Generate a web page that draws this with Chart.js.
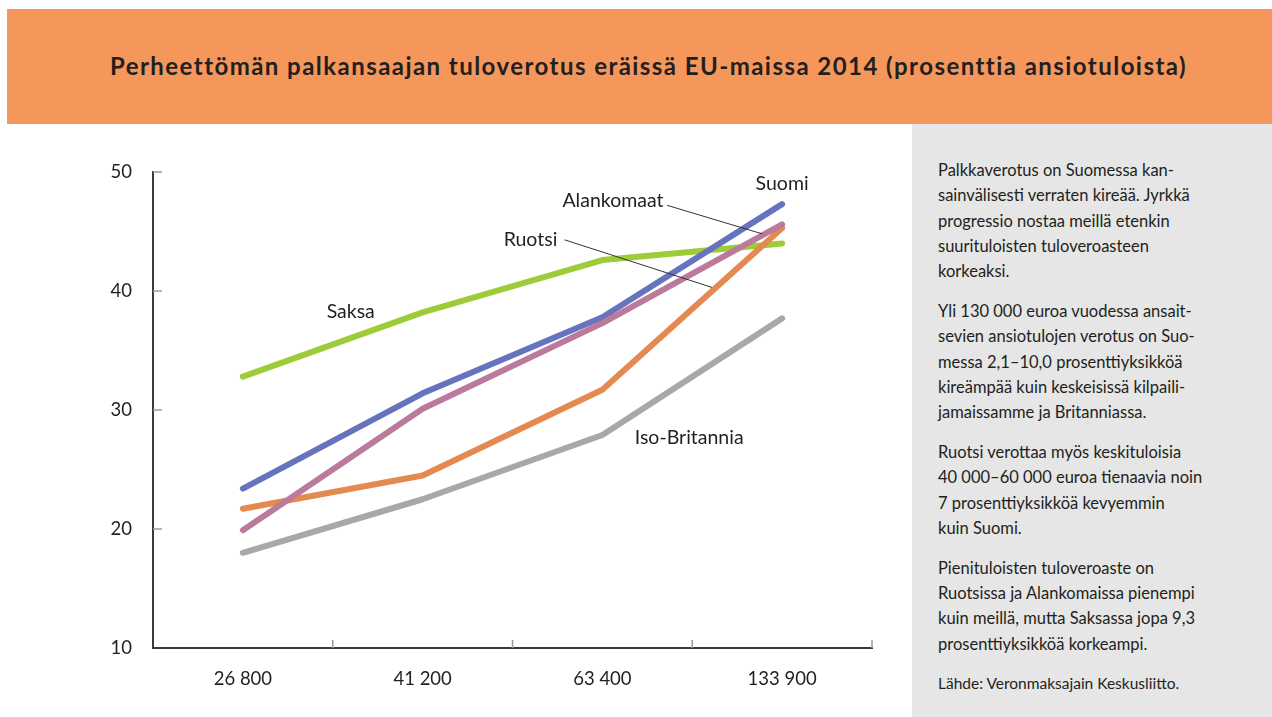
<!DOCTYPE html>
<html>
<head>
<meta charset="utf-8">
<script src="https://cdn.jsdelivr.net/npm/chart.js@4"></script>
<style>
  html, body { margin: 0; padding: 0; background: #fff; }
  body { width: 1272px; height: 717px; position: relative; overflow: hidden; font-family: Lato, "Open Sans", sans-serif; color: #231f20; }
  #header { position: absolute; left: 7px; top: 9px; width: 1265px; height: 115px; background: #f5965b; }
  #header h1 { margin: 0; position: absolute; left: 18px; right: 0; top: 42px; text-align: center; font-size: 24px; letter-spacing: 1.45px; font-weight: bold; color: #231f20; }
  #side { position: absolute; left: 912px; top: 124px; width: 360px; height: 593px; background: #e6e6e6; }
  #side .txt { position: absolute; left: 26px; top: 34px; font-size: 16.5px; line-height: 25.3px; }
  #side p { margin: 0 0 14.5px 0; }
  #side p.src { font-size: 15.5px; margin-top: 9px; }
  #wrap { position: absolute; left: 0; top: 124px; width: 912px; height: 593px; }
</style>
</head>
<body>
<div id="header"><h1>Perheettömän palkansaajan tuloverotus eräissä EU-maissa 2014 (prosenttia ansiotuloista)</h1></div>
<div id="wrap"><canvas id="chart" width="912" height="593"></canvas></div>
<div id="side"><div class="txt">
<p>Palkkaverotus on Suomessa kan-<br>sainvälisesti verraten kireää. Jyrkkä<br>progressio nostaa meillä etenkin<br>suurituloisten tuloveroasteen<br>korkeaksi.</p>
<p>Yli 130 000 euroa vuodessa ansait-<br>sevien ansiotulojen verotus on Suo-<br>messa 2,1–10,0 prosenttiyksikköä<br>kireämpää kuin keskeisissä kilpaili-<br>jamaissamme ja Britanniassa.</p>
<p>Ruotsi verottaa myös keskituloisia<br>40 000–60 000 euroa tienaavia noin<br>7 prosenttiyksikköä kevyemmin<br>kuin Suomi.</p>
<p>Pienituloisten tuloveroaste on<br>Ruotsissa ja Alankomaissa pienempi<br>kuin meillä, mutta Saksassa jopa 9,3<br>prosenttiyksikköä korkeampi.</p>
<p class="src">Lähde: Veronmaksajain Keskusliitto.</p>
</div></div>
<script>
// income levels (euro / year)
const incomes = ["26 800", "41 200", "63 400", "133 900"];
const yTicks = [10, 20, 30, 40, 50];

// tax rate, % of earned income
const suomi        = [23.4, 31.4, 37.8, 47.3];
const saksa        = [32.8, 38.2, 42.6, 44.0];
const alankomaat   = [19.9, 30.1, 37.3, 45.6];
const ruotsi       = [21.7, 24.5, 31.7, 45.3];
const isoBritannia = [18.0, 22.5, 27.9, 37.7];

// in-chart series labels, placed in data units (category index, %)
const notes = [
  { text: "Suomi",         x: 3.0,  y: 49.0, align: "center" },
  { text: "Alankomaat",    x: 2.34, y: 47.6, align: "right" },
  { text: "Ruotsi",        x: 1.6,  y: 44.3, align: "center" },
  { text: "Saksa",         x: 0.6,  y: 38.3, align: "center" },
  { text: "Iso-Britannia", x: 2.18, y: 27.7, align: "left" }
];
const leaders = [
  { from: [2.36, 47.2], to: [2.89, 44.8] },
  { from: [1.79, 44.3], to: [2.61, 40.3] }
];

const ink = "#231f20";

function px(chart, ix, v) {
  const xs = chart.scales.x, ys = chart.scales.y;
  const x0 = xs.getPixelForValue(0), x1 = xs.getPixelForValue(1);
  return [x0 + (x1 - x0) * ix, ys.getPixelForValue(v)];
}

const decorations = {
  id: "decorations",
  afterDatasetsDraw(chart) {
    const ctx = chart.ctx, a = chart.chartArea, ys = chart.scales.y;
    ctx.save();
    // short inward ticks
    ctx.strokeStyle = "#9a9a9a";
    ctx.lineWidth = 1.5;
    yTicks.forEach(v => {
      if (v === 10) return;
      const y = ys.getPixelForValue(v);
      ctx.beginPath(); ctx.moveTo(a.left, y); ctx.lineTo(a.left + 9, y); ctx.stroke();
    });
    const n = incomes.length;
    for (let i = 1; i <= n; i++) {
      const x = a.left + (a.right - a.left) * i / n;
      ctx.beginPath(); ctx.moveTo(x, a.bottom); ctx.lineTo(x, a.bottom - 8); ctx.stroke();
    }
    // leader lines
    ctx.strokeStyle = "#333";
    ctx.lineWidth = 1;
    leaders.forEach(l => {
      const p = px(chart, l.from[0], l.from[1]), q = px(chart, l.to[0], l.to[1]);
      ctx.beginPath(); ctx.moveTo(p[0], p[1]); ctx.lineTo(q[0], q[1]); ctx.stroke();
    });
    // labels
    ctx.fillStyle = ink;
    ctx.font = "19.5px Lato, 'Open Sans', sans-serif";
    ctx.textBaseline = "middle";
    notes.forEach(n => {
      const p = px(chart, n.x, n.y);
      ctx.textAlign = n.align;
      ctx.fillText(n.text, p[0], p[1]);
    });
    ctx.restore();
  }
};

function line(label, data, color, order) {
  return {
    label, data, order,
    borderColor: color, backgroundColor: color,
    borderWidth: 6, borderCapStyle: "round", borderJoinStyle: "round",
    pointRadius: 0, tension: 0, fill: false
  };
}

new Chart(document.getElementById("chart"), {
  type: "line",
  data: {
    labels: incomes,
    datasets: [
      line("Alankomaat", alankomaat, "#bb7a9c", 1),
      line("Suomi", suomi, "#6673bd", 2),
      line("Iso-Britannia", isoBritannia, "#a8a8a8", 3),
      line("Ruotsi", ruotsi, "#e4894f", 4),
      line("Saksa", saksa, "#9dcc38", 5)
    ]
  },
  options: {
    responsive: false,
    animation: false,
    layout: { padding: { left: 0, right: 40, top: 48, bottom: 0 } },
    plugins: { legend: { display: false }, tooltip: { enabled: false }, title: { display: false } },
    scales: {
      x: {
        offset: true,
        afterFit(s) { s.height = 69; },
        grid: { display: true, drawOnChartArea: false, drawTicks: false, color: "transparent" },
        border: { display: true, color: "#3a3a3a", width: 2 },
        ticks: { color: ink, padding: 20, font: { family: "Lato, 'Open Sans', sans-serif", size: 18.5 } }
      },
      y: {
        min: 10, max: 50,
        afterFit(s) { s.width = 153; },
        afterBuildTicks(s) { s.ticks = yTicks.map(v => ({ value: v })); },
        grid: { display: true, drawOnChartArea: false, drawTicks: false, color: "transparent" },
        border: { display: true, color: "#3a3a3a", width: 2 },
        ticks: { color: ink, padding: 21, font: { family: "Lato, 'Open Sans', sans-serif", size: 18.5 } }
      }
    }
  },
  plugins: [decorations]
});
</script>
</body>
</html>
